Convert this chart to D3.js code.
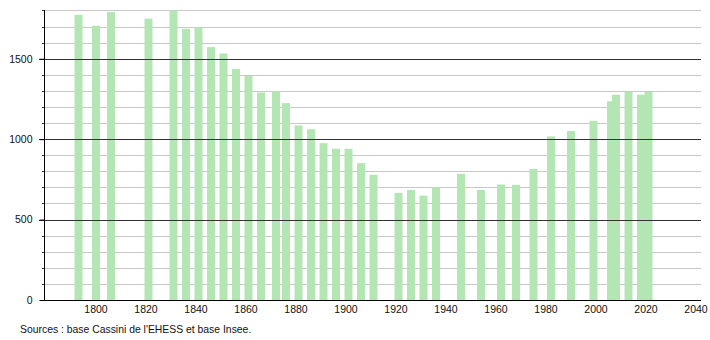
<!DOCTYPE html>
<html>
<head>
<meta charset="utf-8">
<script src="https://cdn.jsdelivr.net/npm/d3@7"></script>
<style>
  body { margin: 0; background: #fff; }
  svg { font-family: "Liberation Sans", Arial, sans-serif; }
</style>
</head>
<body>
<svg width="710" height="340"></svg>
<script>
// census years and population
const years = [1793, 1800, 1806, 1821, 1831, 1836, 1841, 1846, 1851, 1856, 1861, 1866, 1872, 1876,
  1881, 1886, 1891, 1896, 1901, 1906, 1911, 1921, 1926, 1931, 1936, 1946, 1954, 1962, 1968,
  1975, 1982, 1990, 1999, 2006, 2008, 2013, 2018, 2021];
const population = [1773, 1705, 1790, 1749, 1800, 1686, 1695, 1572, 1533, 1437, 1394, 1290, 1297, 1224,
  1085, 1062, 975, 940, 940, 851, 778, 666, 684, 649, 701, 784, 684, 718, 716,
  815, 1017, 1050, 1114, 1236, 1276, 1294, 1276, 1294];
const xTicks = [1800, 1820, 1840, 1860, 1880, 1900, 1920, 1940, 1960, 1980, 2000, 2020, 2040];
const yTicks = [0, 500, 1000, 1500];
const source = "Sources : base Cassini de l'EHESS et base Insee.";

const data = years.map((y, i) => ({ year: y, pop: population[i] }));

const svg = d3.select("svg");

// scales
const x = d3.scaleLinear().domain([1779.6, 2042.4]).range([44.5, 701.5]);
const y = d3.scaleLinear().domain([0, 1803]).range([300, 10]);

// light grid every 100
const minor = d3.range(100, 1900, 100).filter((v) => v % 500 !== 0);
svg.append("g")
  .selectAll("line")
  .data(minor)
  .join("line")
  .attr("x1", 44.5)
  .attr("x2", 701)
  .attr("y1", (d) => Math.round(y(d)) + 0.5)
  .attr("y2", (d) => Math.round(y(d)) + 0.5)
  .attr("stroke", "#c8c8c8")
  .attr("stroke-width", 1);

// bars
svg.append("g")
  .selectAll("rect")
  .data(data)
  .join("rect")
  .attr("x", (d) => x(d.year) - 3.5)
  .attr("y", (d) => y(d.pop))
  .attr("width", 8)
  .attr("height", (d) => y(0) - y(d.pop))
  .attr("fill", "#b3e6b3");

// dark lines at 500 steps, over the bars
svg.append("g")
  .selectAll("line")
  .data([500, 1000, 1500])
  .join("line")
  .attr("x1", 39)
  .attr("x2", 701)
  .attr("y1", (d) => Math.round(y(d)) + 0.5)
  .attr("y2", (d) => Math.round(y(d)) + 0.5)
  .attr("stroke", "#333")
  .attr("stroke-width", 1);

// minor ticks on y axis
svg.append("g")
  .selectAll("line")
  .data(minor)
  .join("line")
  .attr("x1", 42)
  .attr("x2", 45)
  .attr("y1", (d) => Math.round(y(d)) + 0.5)
  .attr("y2", (d) => Math.round(y(d)) + 0.5)
  .attr("stroke", "#333");

// y axis
const yAxis = svg.append("g")
  .attr("transform", "translate(44.5,0)")
  .call(d3.axisLeft(y).tickValues(yTicks).tickSize(5).tickPadding(7).tickFormat(d3.format("d")));
yAxis.select(".domain").attr("d", "M0," + y(1803) + "V300").attr("stroke", "#000");
yAxis.selectAll(".tick line").attr("stroke", "#000");
yAxis.selectAll("text").attr("font-size", "10.5px").attr("fill", "#111")
  .attr("font-family", "'Liberation Sans', Arial, sans-serif");

// x axis
const xAxis = svg.append("g")
  .attr("transform", "translate(0,300.5)")
  .call(d3.axisBottom(x).tickValues(xTicks).tickSize(0).tickPadding(5).tickFormat(d3.format("d")));
xAxis.select(".domain").attr("d", "M44,0H701").attr("stroke", "#000").attr("stroke-width", 1.2);
xAxis.selectAll("text").attr("font-size", "10.5px").attr("fill", "#111")
  .attr("font-family", "'Liberation Sans', Arial, sans-serif");

// source note
svg.append("text")
  .attr("x", 20)
  .attr("y", 333)
  .attr("font-size", "10.4px")
  .attr("fill", "#111")
  .text(source);
</script>
</body>
</html>
